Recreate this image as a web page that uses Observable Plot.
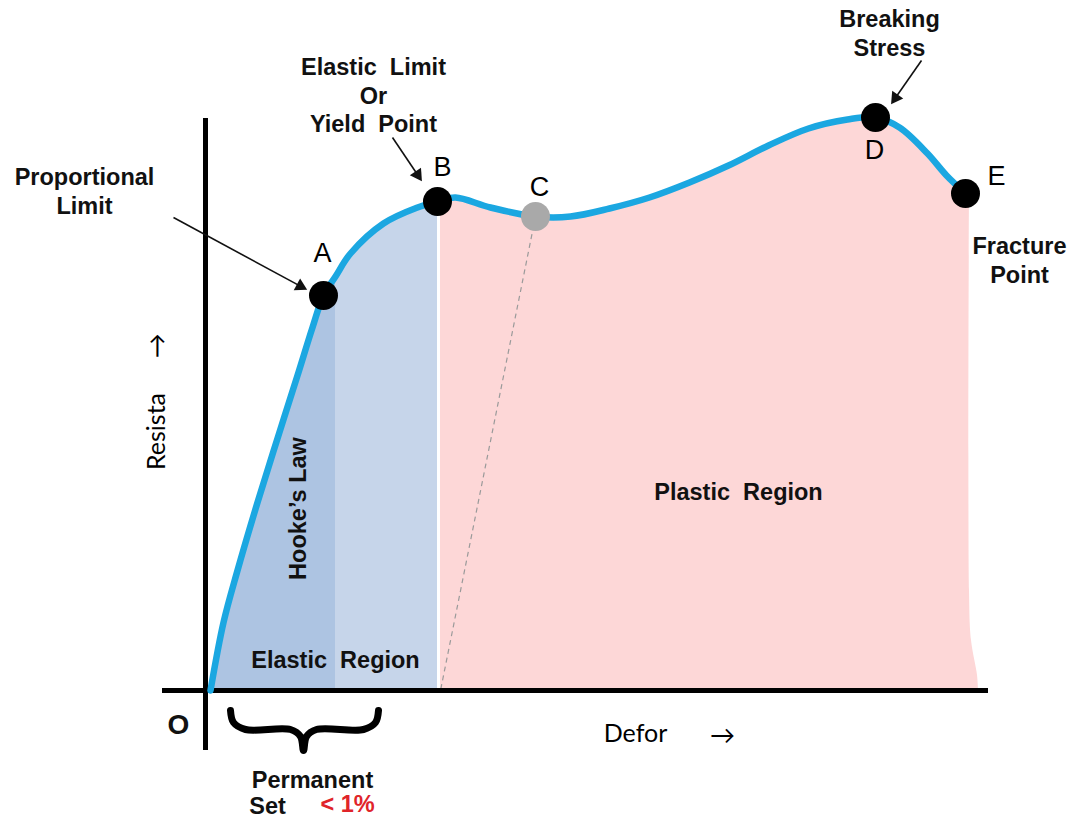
<!DOCTYPE html>
<html><head><meta charset="utf-8">
<script src="https://cdn.jsdelivr.net/npm/d3@7"></script>
<script src="https://cdn.jsdelivr.net/npm/@observablehq/plot@0.6"></script>
<style>body{margin:0;background:#fff;overflow:hidden}</style>
</head><body><div id="chart"></div>
<script>
// Stress–strain curve (strain units, stress units)
const strain = [0.3, 1.6, 3.0, 5.0, 7.0, 9.0, 10.5, 11.6, 12.8, 14.3, 17.6, 21.0, 23.0, 23.3, 24.8, 28.3, 32.8, 36.3, 40.2, 44.2, 48.2, 52.1, 56.1, 60.1, 64.0, 66.8, 69.2, 72.0, 73.9, 75.8];
const stress = [0, 6.8, 12.0, 18.8, 25.2, 31.5, 36.3, 39.5, 41.4, 43.7, 46.7, 48.3, 48.9, 49.0, 49.3, 48.3, 47.4, 47.4, 48.2, 49.3, 50.8, 52.5, 54.5, 56.2, 57.1, 57.3, 56.3, 53.7, 51.5, 49.7];

// Key points
const pointNames = ["A", "B", "C", "D", "E"];
const pointStrain = [11.6, 23.0, 32.8, 66.8, 75.8];
const pointStress = [39.5, 48.9, 47.4, 57.3, 49.7];
const pointFill = ["#000", "#000", "#a9a9a9", "#000", "#000"];
const labelStrain = [11.5, 23.5, 33.2, 66.7, 78.9];
const labelStress = [43.7, 52.3, 50.3, 54.0, 51.4];

// Region boundaries (strain)
const hookeEnd = 12.8;
const elasticEnd = 23.0;
const plasticStart = 23.3;

// Pink region right edge (stress, strain)
const edgeStress = [0, 1.5, 5, 10, 49.7];
const edgeStrain = [77.1, 77.0, 76.4, 76.2, 76.2];

// Annotations
const noteText = ["Proportional\nLimit", "Elastic\u00a0 Limit\nOr\nYield\u00a0 Point", "Breaking\nStress", "Fracture\nPoint", "Elastic\u00a0 Region", "Plastic\u00a0 Region", "Permanent", "Set"];
const noteStrain = [-12.3, 16.6, 68.2, 81.2, 12.8, 53.1, 10.5, 6.0];
const noteStress = [50.0, 59.6, 65.8, 43.1, 3.2, 20.0, -8.8, -11.4];

// Arrows (from -> to)
const arrowFromX = [-3.4, 18.5, 71.4];
const arrowFromY = [47.3, 55.3, 63.0];
const arrowToX = [9.9, 21.4, 68.4];
const arrowToY = [40.1, 51.0, 58.7];

// Brace under the axis
const braceX = [2.3, 2.6, 3.8, 8.3, 9.3, 9.6, 9.9, 10.9, 15.6, 16.8, 17.1];
const braceY = [-2.0, -3.2, -3.9, -3.9, -4.6, -6.0, -4.6, -3.9, -3.9, -3.2, -2.0];

const curve = strain.map((x, i) => ({x, y: stress[i]}));
const hookeRows = curve.filter(d => d.x <= hookeEnd);
const elasticRows = curve.filter(d => d.x >= hookeEnd && d.x <= elasticEnd);
const plasticRows = curve.filter(d => d.x >= plasticStart);
const edgeRows = edgeStress.map((y, i) => ({y, x: edgeStrain[i]}));
const points = pointNames.map((n, i) => ({n, x: pointStrain[i], y: pointStress[i], f: pointFill[i], lx: labelStrain[i], ly: labelStress[i]}));
const notes = noteText.map((t, i) => ({t, x: noteStrain[i], y: noteStress[i]}));
const arrows = arrowFromX.map((x, i) => {
  const dx = arrowToX[i] - x, dy = arrowToY[i] - arrowFromY[i];
  const len = Math.hypot(dx, dy);
  const hx = arrowToX[i] - 0.7 * dx / len, hy = arrowToY[i] - 0.7 * dy / len;
  return {x1: x, y1: arrowFromY[i], x2: hx, y2: hy, angle: Math.atan2(dx, dy) * 180 / Math.PI};
});
const brace = braceX.map((x, i) => ({x, y: braceY[i]}));

const bold = "Liberation Sans, Arial, sans-serif";
const fs = 23.5;

const chart = Plot.plot({
  width: 1073, height: 819, margin: 0,
  x: {domain: [-20.7, 86.6], axis: null},
  y: {domain: [-12.9, 69], axis: null},
  style: {background: "#fff"},
  marks: [
    Plot.areaY(hookeRows, {x: "x", y: "y", fill: "#adc4e2", curve: "catmull-rom"}),
    Plot.areaY(elasticRows, {x: "x", y: "y", fill: "#c6d5ea", curve: "catmull-rom"}),
    Plot.areaY(plasticRows, {x: "x", y: "y", fill: "#fdd7d7", curve: "catmull-rom"}),
    Plot.areaX(edgeRows, {y: "y", x1: () => 75.0, x2: "x", fill: "#fdd7d7", curve: "catmull-rom"}),
    Plot.link([{x1: pointStrain[2], y1: pointStress[2], x2: plasticStart, y2: 0}], {x1: "x1", y1: "y1", x2: "x2", y2: "y2", stroke: "#9a9a9a", strokeWidth: 1.2, strokeDasharray: "5,4"}),
    Plot.ruleY([0], {x1: -4.5, x2: 78.1, stroke: "#000", strokeWidth: 5}),
    Plot.ruleX([-0.2], {y1: -6, y2: 57.2, stroke: "#000", strokeWidth: 5}),
    Plot.line(curve, {x: "x", y: "y", stroke: "#1ba7e1", strokeWidth: 6.5, curve: "catmull-rom"}),
    Plot.dot(points, {x: "x", y: "y", r: 14.5, fill: "f"}),
    Plot.text(points, {x: "lx", y: "ly", text: "n", fontSize: 27, fontFamily: bold, fill: "#000"}),
    Plot.text(notes, {x: "x", y: "y", text: "t", fontSize: fs, fontWeight: "bold", fontFamily: bold, fill: "#111", lineHeight: 1.2}),
    Plot.text(["Hooke\u2019s Law"], {x: 9.1, y: 18.2, rotate: -90, fontSize: fs, fontWeight: "bold", fontFamily: bold, fill: "#111"}),
    Plot.text(["O"], {x: -2.9, y: -3.5, fontSize: 28, fontWeight: "bold", fontFamily: bold, fill: "#111"}),
    Plot.text(["< 1%"], {x: 14.0, y: -11.4, fontSize: fs, fontWeight: "bold", fontFamily: bold, fill: "#e0242a"}),
    Plot.text(["Defor"], {x: 42.8, y: -4.3, fontSize: 25, fontFamily: "Lato, sans-serif", fill: "#000"}),
    Plot.text(["\u2192"], {x: 51.5, y: -4.5, fontSize: 25, fontFamily: "Lato, DejaVu Sans, sans-serif", fill: "#000"}),
    Plot.text(["Resista"], {x: -5.1, y: 25.9, rotate: -90, fontSize: 25, fontFamily: "Lato, sans-serif", fill: "#000"}),
    Plot.text(["\u2191"], {x: -5.0, y: 34.5, fontSize: 25, fontFamily: "Lato, DejaVu Sans, sans-serif", fill: "#000"}),
    Plot.link(arrows, {x1: "x1", y1: "y1", x2: "x2", y2: "y2", stroke: "#111", strokeWidth: 1.6}),
    Plot.dot(arrows, {x: "x2", y: "y2", symbol: "triangle", r: 5, fill: "#111", rotate: "angle"}),
    Plot.line(brace, {x: "x", y: "y", stroke: "#000", strokeWidth: 7, strokeLinecap: "round", strokeLinejoin: "round", curve: "catmull-rom"})
  ]
});
document.getElementById("chart").appendChild(chart);
</script>
</body></html>
